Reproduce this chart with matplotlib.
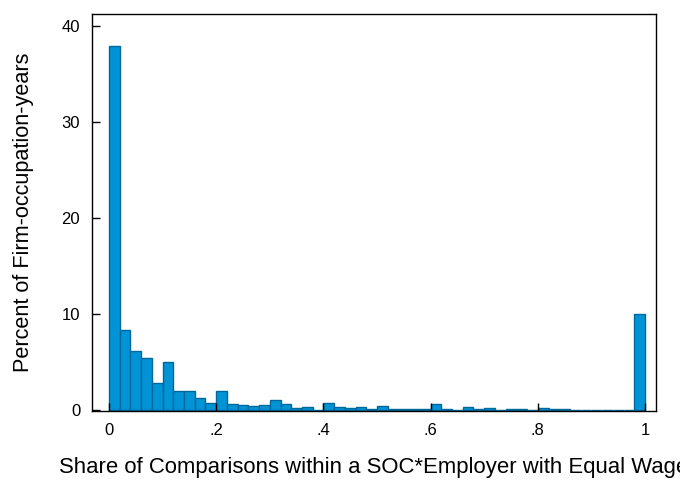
import matplotlib
matplotlib.use("Agg")
import matplotlib.pyplot as plt
import numpy as np

plt.rcParams['font.family'] = ['Liberation Sans', 'DejaVu Sans']

# Histogram bins (width 0.02, from 0 to 1) and percent heights
bin_edges = [round(i * 0.02, 2) for i in range(51)]
percent = [37.9, 8.3, 6.1, 5.4, 2.8, 5.0, 2.0, 1.95, 1.3, 0.7,
           2.0, 0.63, 0.5, 0.45, 0.5, 1.04, 0.6, 0.2, 0.3, 0.05,
           0.73, 0.3, 0.2, 0.3, 0.07, 0.42, 0.1, 0.1, 0.1, 0.1,
           0.63, 0.1, 0.03, 0.3, 0.14, 0.24, 0.03, 0.14, 0.14, 0.03,
           0.24, 0.14, 0.14, 0.05, 0.05, 0.05, 0.05, 0.05, 0.05, 9.97]

xticks = [0, 0.2, 0.4, 0.6, 0.8, 1]
xtick_labels = ['0', '.2', '.4', '.6', '.8', '1']
yticks = [0, 10, 20, 30, 40]
ytick_labels = ['0', '10', '20', '30', '40']

xlabel = 'Share of Comparisons within a SOC*Employer with Equal Wage'
ylabel = 'Percent of Firm-occupation-years'

fig = plt.figure(figsize=(6.8, 4.83), dpi=100)
ax = fig.add_axes([92/680, 72/483, 564/680, 397/483])

lefts = np.array(bin_edges[:-1])
widths = np.diff(bin_edges)
ax.bar(lefts, percent, width=widths, align='edge',
       color='#0093D5', edgecolor='#00689C', linewidth=1.0)

ax.set_xlim(-0.0317, 1.0205)
ax.set_ylim(-0.1, 41.25)

ax.set_xticks(xticks)
ax.set_xticklabels(xtick_labels)
ax.set_yticks(yticks)
ax.set_yticklabels(ytick_labels)
ax.tick_params(axis='both', direction='in', length=6, width=1.0,
               labelsize=12, pad=8.5, colors='black')

for side in ['left', 'bottom', 'top', 'right']:
    ax.spines[side].set_color('black')
    ax.spines[side].set_linewidth(1.0)

ax.set_xlabel(xlabel, fontsize=15.95, labelpad=14)
ax.set_ylabel(ylabel, fontsize=15.6, labelpad=20)

fig.savefig('out.png', dpi=100)
